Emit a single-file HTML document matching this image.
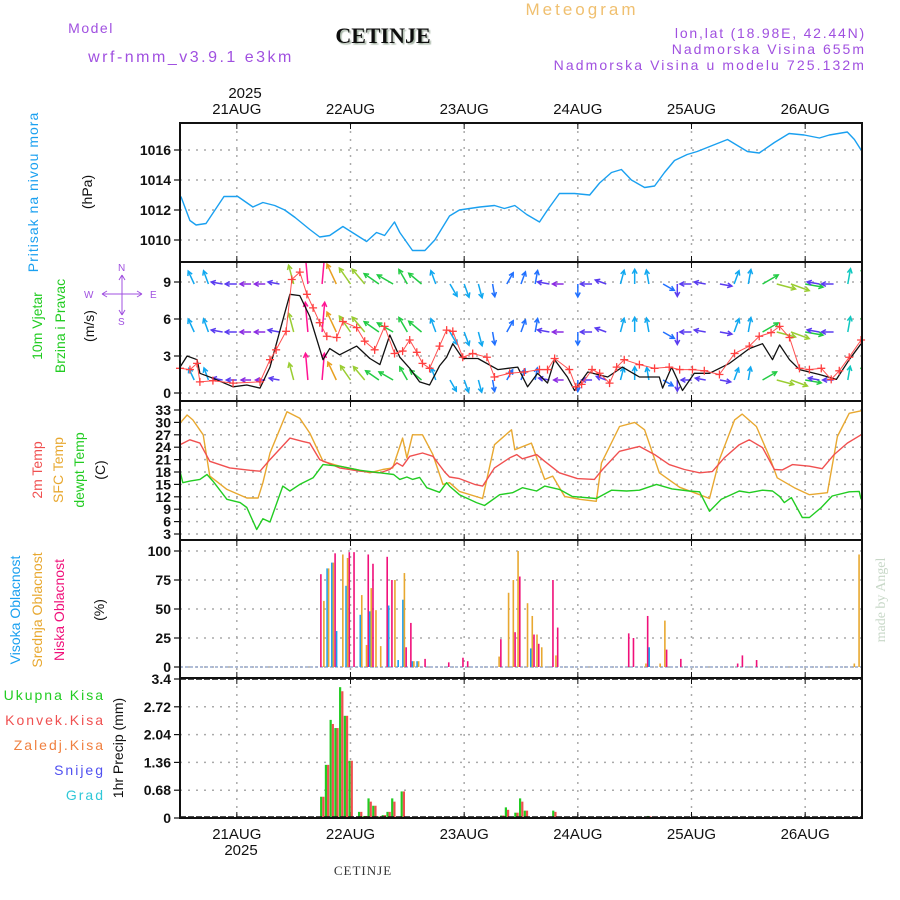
<!DOCTYPE html>
<html><head><meta charset="utf-8"><style>
html,body{margin:0;padding:0;background:#fff}
svg{display:block;font-family:"Liberation Sans",sans-serif}
</style></head><body>
<svg id="c" width="900" height="900" viewBox="0 0 900 900" xmlns="http://www.w3.org/2000/svg">
<defs><clipPath id="cw"><rect x="181" y="263" width="680" height="137"/></clipPath>
<filter id="sh"><feDropShadow dx="1.5" dy="1.5" stdDeviation="0.6" flood-color="#9a9" flood-opacity="0.9"/></filter></defs>
<text x="582" y="15" font-size="17" fill="#f0c070" text-anchor="middle" letter-spacing="3">Meteogram</text>
<text x="91" y="33" font-size="14" fill="#a050e0" text-anchor="middle" letter-spacing="1.5">Model</text>
<text x="383" y="43" font-size="22" font-weight="bold" font-family="Liberation Serif,serif" fill="#111" text-anchor="middle" filter="url(#sh)">CETINJE</text>
<text x="191" y="62" font-size="16" fill="#a050e0" text-anchor="middle" letter-spacing="2.5">wrf-nmm_v3.9.1 e3km</text>
<text x="866" y="38" font-size="14" fill="#a050e0" text-anchor="end" letter-spacing="1.8">lon,lat (18.98E, 42.44N)</text>
<text x="866" y="54" font-size="14" fill="#a050e0" text-anchor="end" letter-spacing="2">Nadmorska Visina 655m</text>
<text x="866" y="70" font-size="14" fill="#a050e0" text-anchor="end" letter-spacing="2.1">Nadmorska Visina u modelu 725.132m</text>
<text x="245" y="98" font-size="15" fill="#111" text-anchor="middle">2025</text>
<text x="38" y="192" font-size="14" fill="#1aa0f0" text-anchor="middle" letter-spacing="1" transform="rotate(-90 38 192)">Pritisak na nivou mora</text>
<text x="92" y="192" font-size="14" fill="#111" text-anchor="middle" transform="rotate(-90 92 192)">(hPa)</text>
<text x="42" y="326" font-size="14" fill="#22cc22" text-anchor="middle" transform="rotate(-90 42 326)">10m Vjetar</text>
<text x="65" y="326" font-size="14" fill="#22cc22" text-anchor="middle" transform="rotate(-90 65 326)">Brzina i Pravac</text>
<text x="94" y="326" font-size="14" fill="#111" text-anchor="middle" transform="rotate(-90 94 326)">(m/s)</text>
<g fill="#a050e0" stroke="#a050e0" font-size="10">
<text x="84" y="298" stroke="none">W</text><text x="150" y="298" stroke="none">E</text>
<text x="118" y="271" stroke="none">N</text><text x="118" y="325" stroke="none">S</text>
<path d="M102 294h40M102 294l5-3M102 294l5 3M142 294l-5-3M142 294l-5 3M122 275v40M122 275l-3 5M122 275l3 5M122 315l-3-5M122 315l3-5" fill="none" stroke-width="1"/>
</g>
<text x="42" y="470" font-size="14" fill="#f05050" text-anchor="middle" transform="rotate(-90 42 470)">2m Temp</text>
<text x="63" y="470" font-size="14" fill="#e8a830" text-anchor="middle" transform="rotate(-90 63 470)">SFC Temp</text>
<text x="84" y="470" font-size="14" fill="#22cc22" text-anchor="middle" transform="rotate(-90 84 470)">dewpt Temp</text>
<text x="105" y="470" font-size="14" fill="#111" text-anchor="middle" transform="rotate(-90 105 470)">(C)</text>
<text x="20" y="610" font-size="14" fill="#1aa0f0" text-anchor="middle" transform="rotate(-90 20 610)">Visoka Oblacnost</text>
<text x="42" y="610" font-size="14" fill="#e8a830" text-anchor="middle" transform="rotate(-90 42 610)">Srednja Oblacnost</text>
<text x="64" y="610" font-size="14" fill="#f0107a" text-anchor="middle" transform="rotate(-90 64 610)">Niska Oblacnost</text>
<text x="104" y="610" font-size="14" fill="#111" text-anchor="middle" transform="rotate(-90 104 610)">(%)</text>
<g font-size="14" text-anchor="end" letter-spacing="2">
<text x="105" y="700" fill="#22cc22">Ukupna Kisa</text>
<text x="105" y="725" fill="#f05050">Konvek.Kisa</text>
<text x="105" y="750" fill="#f08040">Zaledj.Kisa</text>
<text x="105" y="775" fill="#5050f0">Snijeg</text>
<text x="105" y="800" fill="#30c8d8">Grad</text>
</g>
<text x="123" y="748" font-size="14" fill="#111" text-anchor="middle" transform="rotate(-90 123 748)">1hr Precip (mm)</text>
<text x="885" y="600" font-size="14" fill="#c8d8c8" font-family="Liberation Serif,serif" text-anchor="middle" transform="rotate(-90 885 600)">made by Angel</text>
<text x="241" y="855" font-size="15" fill="#111" text-anchor="middle">2025</text>
<text x="363" y="875" font-size="13" fill="#333" font-family="Liberation Serif,serif" text-anchor="middle" letter-spacing="1">CETINJE</text>
<g id="plot"></g>
</svg>
<script>
const dayLabels=["21AUG","22AUG","23AUG","24AUG","25AUG","26AUG"];
const dayHours=[12,36,60,84,108,132];
const presT=[0.2,2.1,3.4,5.5,9.3,12.2,15.4,17.5,20,22.1,24.3,27.4,29.5,31.6,34.4,35.9,39.4,41.5,43.2,45.3,46.4,49.1,51.7,53.8,56.9,59,63.3,66.4,68.5,70.7,73.2,75.9,77.6,80.1,83.3,86.5,88.6,91.1,93.2,95.3,98.1,100.2,102.3,104.4,107.1,109.2,112.4,115.6,117.7,119.8,122.3,125.5,128.6,131.8,135,137.1,140.9,142.4,143.8];
const presV=[1012.9,1011.3,1011,1011.1,1012.9,1012.9,1012.2,1012.5,1012.3,1012,1011.5,1010.7,1010.2,1010.3,1010.9,1010.6,1009.9,1010.5,1010.3,1011.2,1010.5,1009.3,1009.3,1010,1011.6,1012,1012.2,1012.3,1012.1,1012.3,1011.7,1011.2,1012,1013.1,1013.1,1013,1013.8,1014.5,1014.7,1014,1013.5,1013.6,1014.5,1015.3,1015.7,1015.9,1016.3,1016.7,1016.3,1015.9,1015.8,1016.5,1017.1,1017,1016.8,1017,1017.2,1016.7,1016];
const presTicks=[1010,1012,1014,1016];
const windTicks=[0,3,6,9];
const spdT=[0,1.5,3.6,4.2,6.95,11.2,14.1,16.9,19,21.7,23.2,25.3,27.4,30.2,31.6,33.7,37.3,40.1,42.2,44.3,46.4,48.5,50.6,52.7,54.8,56.3,57.6,59.7,62.9,67.1,71.3,73.4,75.5,77.6,79.1,81.8,83.3,86.1,90.3,93.4,97,101.2,101.9,103.8,106.1,108.6,111.8,116,120.2,123,125.1,126.6,128.7,130.8,135,138.6,141.3,143.8];
const spdV=[2.1,3,2.7,1.6,1.2,0.5,0.65,0.4,2.1,5.9,8,7.9,6.2,2.7,3.6,3.1,3.8,2.8,2.3,4.7,2.9,2,0.9,0.65,2.2,2.9,4,2.8,2.8,1.9,2.1,0.5,1.6,0.8,2.7,1.3,0.2,1.7,1.3,2.1,1.3,1.3,0.4,2.1,0.2,1.6,1.6,2.4,3.6,4,2.7,3.9,2.7,1.9,1.5,1.1,2.7,4];
const gustT=[0,2.1,3.6,4.2,6.95,11.2,16.9,19,20.3,22.4,23.6,25.3,26.8,28.1,29.5,31,33.1,34.4,37.3,39,41.1,43.2,45.3,47,48.5,50,51.2,52.7,54.8,56.3,57.6,59.7,61.8,64.8,66.4,69.6,72.7,75.9,77.6,79.1,82.2,83.6,84.8,87,88.6,90.7,92.2,93.8,97,100.2,103.3,105.5,108.2,110.7,113.9,117.1,120.2,122.3,124.8,126.6,128.7,130.8,132.9,135.4,137.5,139.2,141.3,143.8];
const gustV=[2,1.9,2.4,0.9,1,0.8,0.9,2.7,3.5,5,9.2,9.8,8,6.9,5.7,4.6,4.5,5.8,5.3,4.2,3.5,5.4,3.2,3.4,4.3,3.3,2.4,2,3.8,5.1,5,2.9,3.2,2.9,1.3,1.6,1.7,1.9,1.9,2.8,1.9,0.5,0.7,1.9,1.6,0.8,2.1,2.7,2.3,2,2.1,1.9,1.9,1.8,1.5,3.2,3.8,4.6,4.9,5.4,4.5,2,1.9,2,1.1,1.8,2.9,4.3];
const arrowDir=[-20,-25,-20,-80,-90,-90,-90,-80,-15,-5,5,-25,-35,-40,-55,-60,-30,-50,-20,150,160,165,170,30,20,10,-80,-90,180,-90,-70,15,0,-10,120,180,-90,-80,100,20,10,60,105,110,100,-80,-90,10,5];
const arrowSpd=[2,2,2,1,1,0.8,0.7,1,4,8,8,5,4,4,3.5,3.5,3,3,2,2,2,2,1.5,1.5,1.5,1.8,1.2,0.8,1.5,1,1,2,2.2,2,1.5,1.3,1,1,1.2,2,2.2,3.5,4,4,3.5,1.3,1.2,2.5,3];
const tempTicks=[3,6,9,12,15,18,21,24,27,30,33];
const sfcT=[0,1.5,2.7,4.9,6.3,9.9,14.1,16.5,17.5,19,22.6,25.3,27.4,30.2,33.7,37.3,40.1,42.8,44.9,47,47.9,49.1,51.2,53.4,55.5,56.9,59,63.9,66.4,70,70.7,74.2,77,78.7,81.2,84.4,87.9,89,92.8,96,98.1,101.2,105.5,109.7,111.8,113.9,117.1,118.7,121.7,124.4,126.1,129.7,132.9,136.7,138.8,141.3,143.8];
const sfcV=[29.8,31.8,30.6,27,17,13.8,11.7,11.7,15.4,22.6,32.6,31,27.4,20.6,19.4,18.6,17.8,18.6,19,26.2,21.4,27,27,22.2,15,15.4,13.3,11.6,24.6,28.2,23.4,25,16.2,17,12.1,11.4,10.9,20.2,29,30,28.2,17.8,14.3,12.5,11.6,21,30.6,32,29,21.8,16.6,14.2,12.5,13,26.6,32.2,32.8];
const t2T=[0,2.1,4.2,6.3,10.5,14.8,16.9,19,23.2,25.9,27.4,29.5,33.7,38,42.2,44.3,45.8,47,48.5,51.2,53.4,55.9,56.9,59,62.2,63.9,66.4,69.6,71.1,72.3,75.3,77,80.1,83.9,87.5,89.2,92.8,97,100.2,103.3,106.5,109.7,112.4,114.9,118.1,120.2,123,125.5,127.2,129.3,132.9,135.6,138.1,140.9,143.8];
const t2V=[24.6,25.8,25,20.6,19,18.4,18.2,21,26.2,25.4,25,21,19,18.2,17.8,18.6,20.2,19.4,21.8,22.6,21.8,18,16.8,16.4,15,14.6,19,21.4,22.2,21.2,22.2,20.6,17.8,16.4,16.2,18.6,23,24.2,22.2,19.8,18.6,17.8,18.1,21.4,24.6,25.8,23.9,18.6,18.5,19.8,19.4,18.8,22.2,25,27];
const dewT=[0,0.6,2.1,4.2,5.7,6.95,9.9,12.7,14.1,16.2,17.5,19,21.7,23.2,25.3,28.1,30.2,33.7,38,42.2,45.1,46.4,47.9,49.1,50.6,52.1,54.8,56.3,56.9,59,62.6,64.3,67.5,70.2,72.3,75.3,77,80.1,82.8,87.9,91.1,94.3,97,100.6,103.9,107.5,109.7,111.8,114.3,118.1,120.2,123,125.1,126.6,127.6,129.1,131.4,132.9,135.4,137.7,141.3,143.4,143.8];
const dewV=[18.2,15.4,15.8,16.2,17.4,15.8,11.4,10.6,9.4,4.1,6.7,5.9,14.6,13.4,15,16.6,19.8,19.4,18.4,17.8,17.4,16.2,16.8,16.2,16.7,14.2,13.1,15.4,14.6,12.5,10.6,9.9,12.5,13,14.2,13.4,14.6,13.8,12.1,11.6,13.6,13.4,13.6,15,13.9,13.4,13.2,8.5,11.4,13.4,13,13.6,13.4,12.1,10.6,11.8,7,7,9.4,12.2,13.2,13.3,11.4];
const cloudTicks=[0,25,50,75,100];
const cloudHour=[30,31,32,33,34,35,36,37,38,39,40,41,42,44,45,46,47,48,49,50,52,57,60,61,67,68,69,70,71,72,73,74,75,76,79,80,95,96,98,99,101,102,103,106,118,119,122,142,143];
const cloudHigh=[0,85,90,31,0,70,0,0,45,0,48,0,0,53,0,6,58,0,5,5,0,0,0,0,0,0,0,0,0,0,0,16,0,0,0,0,0,0,0,17,0,0,0,0,0,0,0,0,0];
const cloudMid=[57,85,90,0,97,94,0,0,62,19,68,49,18,0,75,0,81,0,5,5,0,0,0,0,9,0,64,75,100,0,55,44,28,17,10,0,0,0,3,0,3,40,0,0,0,0,0,3,97];
const cloudLow=[80,0,0,98,0,0,99,99,0,0,97,89,0,95,75,0,0,17,38,0,7,4,8,5,0,24,0,0,30,78,0,0,28,20,75,34,29,25,0,44,0,0,15,7,3,10,6,0,0];
const precipTicks=[0,0.68,1.36,2.04,2.72,3.4];
const precipHour=[30,31,32,33,34,35,36,38,39,40,41,42,43,44,45,47,68,69,71,72,73,79,99,102];
const precipTotal=[0.52,1.3,2.4,2.2,3.2,2.5,1.4,0.15,0.05,0.48,0.3,0.04,0.07,0.15,0.48,0.65,0.06,0.26,0.13,0.48,0.18,0.18,0.05,0.03];
const precipConv=[0.52,1.3,2.3,2.2,3.1,2.5,1.4,0.15,0.05,0.4,0.3,0.04,0.07,0.15,0.4,0.65,0.06,0.2,0.13,0.4,0.18,0.15,0.04,0.03];

const NS='http://www.w3.org/2000/svg';
const plot=document.getElementById('plot');
const X0=180,X1=862;
const xs=h=>X0+h*(X1-X0)/144;
function lin(d0,d1,r0,r1){return v=>r0+(v-d0)*(r1-r0)/(d1-d0);}
const yP=lin(1010,1016,240,150);
const yW=lin(0,9,393,282);
const yT=lin(3,33,534,410);
const yC=lin(0,100,667,551);
const yR=lin(0,3.4,818,679);
function el(tag,attrs,parent){const e=document.createElementNS(NS,tag);for(const k in attrs)e.setAttribute(k,attrs[k]);(parent||plot).appendChild(e);return e;}
const panels=[[123,262,'pressure-panel'],[262,401,'wind-panel'],[401,540,'temperature-panel'],[540,678,'cloud-panel'],[678,818,'precip-panel']];
function hgrid(ticks,ys,top,bot,name){
  ticks.forEach(v=>{const y=ys(v);
    const g=el('line',{x1:X0,x2:X1,y1:y,y2:y,stroke:'#aaa','stroke-width':1.5,'stroke-dasharray':'2 6'});
    
    
    el('line',{x1:X0-6,x2:X0,y1:y,y2:y,stroke:'#111','stroke-width':1.2});
    const t=el('text',{x:X0-9,y:y+5,'font-size':14,'text-anchor':'end',fill:'#111','font-weight':'bold'});
    t.textContent=v;
    
    
  });
}
panels.forEach(([a,b,n])=>{
  dayHours.forEach(h=>{
    const g=el('line',{x1:xs(h),x2:xs(h),y1:a,y2:b,stroke:'#aaa','stroke-width':1.5,'stroke-dasharray':'2 6'});
    
    
    el('line',{x1:xs(h),x2:xs(h),y1:a,y2:a+6,stroke:'#111','stroke-width':1});
    el('line',{x1:xs(h),x2:xs(h),y1:b-6,y2:b,stroke:'#111','stroke-width':1});
  });
});
hgrid(presTicks,yP,123,262,'pressure');
hgrid(windTicks,yW,262,401,'wind');
hgrid(tempTicks,yT,401,540,'temperature');
hgrid(cloudTicks,yC,540,678,'cloud');
hgrid(precipTicks,yR,678,818,'precip');
function line(T,V,ys,color,name,w){
  const d=T.map((t,i)=>(i?'L':'M')+xs(t).toFixed(1)+' '+ys(V[i]).toFixed(1)).join(' ');
  const p=el('path',{d:d,fill:'none',stroke:color,'stroke-width':w||1.4,'stroke-linejoin':'round'});
  
  
  return p;
}
line(presT,presV,yP,'#1aa0f0','pressure-line');
const wg=el('g',{'clip-path':'url(#cw)'});


function spdColor(s){return s<1?'#8a2be2':s<1.5?'#5a3cf0':s<2?'#2070ff':s<2.5?'#10a8f0':s<3?'#10c8c0':s<4?'#22cc44':s<5?'#9acd32':s<6.5?'#e8a020':s<7.5?'#ff4040':'#ff1493';}
[284,332,380].forEach((by,row)=>{
  arrowDir.forEach((d,i)=>{
    const x=xs(i*3),s=arrowSpd[i],L=Math.min(9+s*2.6,32)*(row==2?0.9:1);
    const r=d*Math.PI/180,dx=Math.sin(r)*L,dy=-Math.cos(r)*L;
    const c=spdColor(s);
    const a=el('path',{d:`M${x} ${by}l${dx.toFixed(1)} ${dy.toFixed(1)}`,stroke:c,'stroke-width':1.5,fill:'none'},wg);
    
    
    const hx=x+dx,hy=by+dy,ang=Math.atan2(dy,dx);
    el('path',{d:`M${(hx-5*Math.cos(ang-0.5)).toFixed(1)} ${(hy-5*Math.sin(ang-0.5)).toFixed(1)}L${hx.toFixed(1)} ${hy.toFixed(1)}L${(hx-5*Math.cos(ang+0.5)).toFixed(1)} ${(hy-5*Math.sin(ang+0.5)).toFixed(1)}`,stroke:c,'stroke-width':1.5,fill:'none'},wg);
  });
});
line(spdT,spdV,yW,'#111','wind-speed-line',1.3);
line(gustT,gustV,yW,'#ff5050','wind-gust-line',1);
gustT.forEach((t,i)=>{
  const x=xs(t),y=yW(gustV[i]);
  const m=el('path',{d:`M${x-4} ${y}h8M${x} ${y-4}v8`,stroke:'#ff4040','stroke-width':1.3});
  
  
});
line(sfcT,sfcV,yT,'#e8a830','sfc-temp-line');
line(t2T,t2V,yT,'#f05050','2m-temp-line');
line(dewT,dewV,yT,'#22cc22','dewpoint-line');
el('line',{x1:X0,x2:X1,y1:yC(0),y2:yC(0),stroke:'#9ac','stroke-width':1.5,'stroke-dasharray':'3 2'});
cloudHour.forEach((h,i)=>{
  const x=xs(h);
  [[cloudLow[i],-2,'#f0107a','low'],[cloudHigh[i],-0.5,'#1aa0f0','high'],[cloudMid[i],1,'#e8a830','mid']].forEach(([v,o,c,n])=>{
    if(v<=0)return;
    const r=el('rect',{x:x+o,y:yC(v),width:1.6,height:yC(0)-yC(v),fill:c});
    
    
  });
});
precipHour.forEach((h,i)=>{
  const x=xs(h);
  const g=el('rect',{x:x-2,y:yR(precipTotal[i]),width:2.2,height:yR(0)-yR(precipTotal[i]),fill:'#22cc22'});
  
  
  const r=el('rect',{x:x+0.2,y:yR(precipConv[i]),width:2.2,height:yR(0)-yR(precipConv[i]),fill:'#f05050'});
  
  
});
el('line',{x1:X0,x2:X1,y1:679,y2:679,stroke:'#111','stroke-width':1.5,'stroke-dasharray':'6 2'});
el('line',{x1:X0,x2:X1,y1:817,y2:817,stroke:'#111','stroke-width':1.5,'stroke-dasharray':'6 2'});
panels.forEach(([a,b,n])=>{
  const r=el('rect',{x:X0,y:a,width:X1-X0,height:b-a,fill:'none',stroke:'#111','stroke-width':2});
  
  
});
dayLabels.forEach((s,i)=>{
  const x=xs(dayHours[i]);
  const t=el('text',{x:x,y:114,'font-size':15,'text-anchor':'middle',fill:'#111'});t.textContent=s;
  
  
  const b=el('text',{x:x,y:839,'font-size':15,'text-anchor':'middle',fill:'#111'});b.textContent=s;
  
  
});
</script>
</body></html>
